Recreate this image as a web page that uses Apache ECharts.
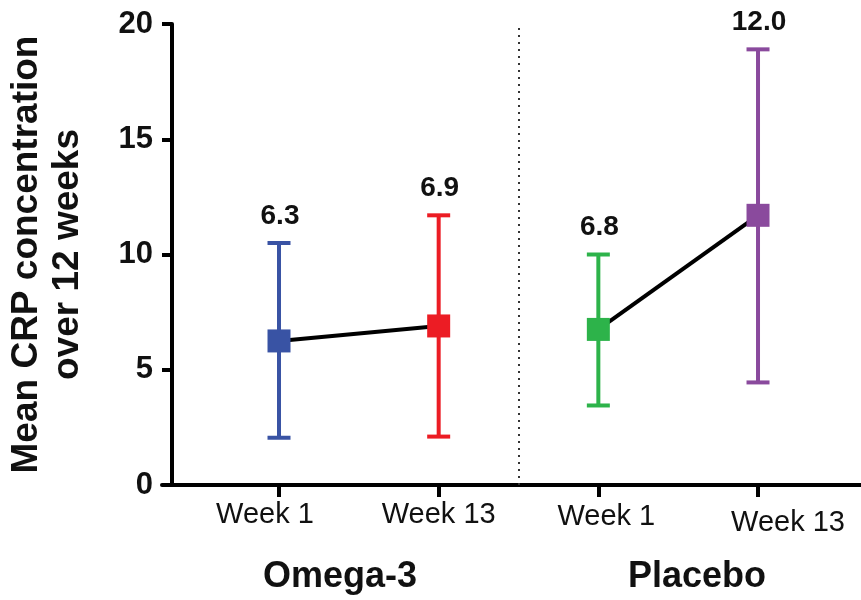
<!DOCTYPE html>
<html>
<head>
<meta charset="utf-8">
<script src="https://cdn.jsdelivr.net/npm/echarts@6/dist/echarts.min.js"></script>
<style>
  html, body { margin: 0; padding: 0; background: #fff; }
  #chart { width: 861px; height: 600px; }
</style>
</head>
<body>
<div id="chart"></div>
<script>
// ==================== 数据 ====================
// 横轴位置与刻度标签
const xPositions = [1, 2, 3, 4];
const weekLabels = ['Week 1', 'Week 13', 'Week 1', 'Week 13'];
// 分组名称（每组两个点）
const groupNames = ['Omega-3', 'Placebo'];
const groupMembers = [[0, 1], [2, 3]];
// 均值与误差范围
const meanValues = [6.25, 6.9, 6.75, 11.7];
const lowValues = [2.05, 2.1, 3.45, 4.45];
const highValues = [10.5, 11.7, 10.0, 18.9];
// 数值标签
const valueLabels = ['6.3', '6.9', '6.8', '12.0'];
const pointColors = ['#3953a4', '#ec1c24', '#2db34a', '#8a4a9d'];

const FONT = 'Arial, "Liberation Sans", Helvetica, sans-serif';

const chart = echarts.init(document.getElementById('chart'), null, { renderer: 'canvas' });

// 误差线 + 数值标签
const errorData = xPositions.map((x, i) => [x, lowValues[i], highValues[i]]);

function renderErrorBar(params, api) {
  const x = api.value(0);
  const lo = api.coord([x, api.value(1)]);
  const hi = api.coord([x, api.value(2)]);
  const i = params.dataIndex;
  const color = pointColors[i];
  const half = 11.5;
  const stroke = { stroke: color, lineWidth: 4 };
  return {
    type: 'group',
    children: [
      { type: 'line', shape: { x1: lo[0], y1: lo[1], x2: hi[0], y2: hi[1] }, style: stroke },
      { type: 'line', shape: { x1: lo[0] - half, y1: lo[1], x2: lo[0] + half, y2: lo[1] }, style: stroke },
      { type: 'line', shape: { x1: hi[0] - half, y1: hi[1], x2: hi[0] + half, y2: hi[1] }, style: stroke },
      {
        type: 'text',
        x: hi[0] + 1,
        y: hi[1] - 27,
        style: {
          text: valueLabels[i],
          fill: '#111',
          fontSize: 28,
          fontWeight: 'bold',
          fontFamily: FONT,
          align: 'center',
          verticalAlign: 'middle'
        }
      }
    ]
  };
}

// 每组的连线
const lineSeries = groupMembers.map((members, g) => ({
  name: groupNames[g],
  type: 'line',
  data: members.map(i => [xPositions[i], meanValues[i]]),
  showSymbol: false,
  lineStyle: { color: '#000', width: 4 },
  z: 3
}));

const option = {
  animation: false,
  backgroundColor: '#fff',
  grid: { left: 162, right: 0, top: 24, bottom: 115, containLabel: false, outerBoundsMode: 'none' },
  xAxis: {
    type: 'value',
    min: 0.2672,
    max: 4.645,
    splitLine: { show: false },
    axisLine: { lineStyle: { color: '#000', width: 4 } },
    axisTick: {
      customValues: xPositions,
      length: 12,
      lineStyle: { color: '#000', width: 4 }
    },
    axisLabel: {
      customValues: xPositions,
      margin: 15,
      color: '#111',
      fontSize: 29,
      fontFamily: FONT,
      formatter: (v) => {
        const i = xPositions.indexOf(v);
        return i < 0 ? '' : `{w${i}|${weekLabels[i]}}`;
      },
      rich: {
        w0: { fontSize: 29, fontFamily: FONT, color: '#111', padding: [0, 28, 0, 0] },
        w1: { fontSize: 29, fontFamily: FONT, color: '#111' },
        w2: { fontSize: 29, fontFamily: FONT, color: '#111', padding: [2, 0, 0, 16] },
        w3: { fontSize: 29, fontFamily: FONT, color: '#111', padding: [8, 0, 0, 60] }
      }
    }
  },
  yAxis: {
    type: 'value',
    min: 0,
    max: 20,
    interval: 5,
    offset: -10,
    splitLine: { show: false },
    axisLine: { show: true, lineStyle: { color: '#000', width: 4 } },
    axisTick: { show: true, length: 10, lineStyle: { color: '#000', width: 4 } },
    axisLabel: {
      margin: 19,
      color: '#111',
      fontSize: 31,
      fontWeight: 'bold',
      fontFamily: FONT
    },
    name: 'Mean CRP concentration\nover 12 weeks',
    nameLocation: 'middle',
    nameRotate: 90,
    nameGap: 84,
    nameTextStyle: {
      color: '#111',
      fontSize: 37,
      fontWeight: 'bold',
      fontFamily: FONT,
      lineHeight: 41
    }
  },
  graphic: [
    {
      type: 'text', x: 340, y: 577,
      style: { text: groupNames[0], fill: '#111', fontSize: 36, fontWeight: 'bold', fontFamily: FONT, align: 'center', verticalAlign: 'middle' }
    },
    {
      type: 'text', x: 697, y: 577,
      style: { text: groupNames[1], fill: '#111', fontSize: 36, fontWeight: 'bold', fontFamily: FONT, align: 'center', verticalAlign: 'middle' }
    }
  ],
  series: [
    {
      name: 'error',
      type: 'custom',
      data: errorData,
      renderItem: renderErrorBar,
      z: 2,
      markLine: {
        silent: true,
        symbol: 'none',
        label: { show: false },
        lineStyle: { color: '#333', width: 2, type: [2, 5] },
        data: [{ xAxis: 2.5 }]
      }
    },
    ...lineSeries,
    {
      name: 'mean',
      type: 'scatter',
      data: xPositions.map((x, i) => [x, meanValues[i]]),
      symbol: 'rect',
      symbolSize: 23,
      itemStyle: { color: (p) => pointColors[p.dataIndex], opacity: 1 },
      z: 4
    }
  ]
};

chart.setOption(option);
</script>
</body>
</html>
